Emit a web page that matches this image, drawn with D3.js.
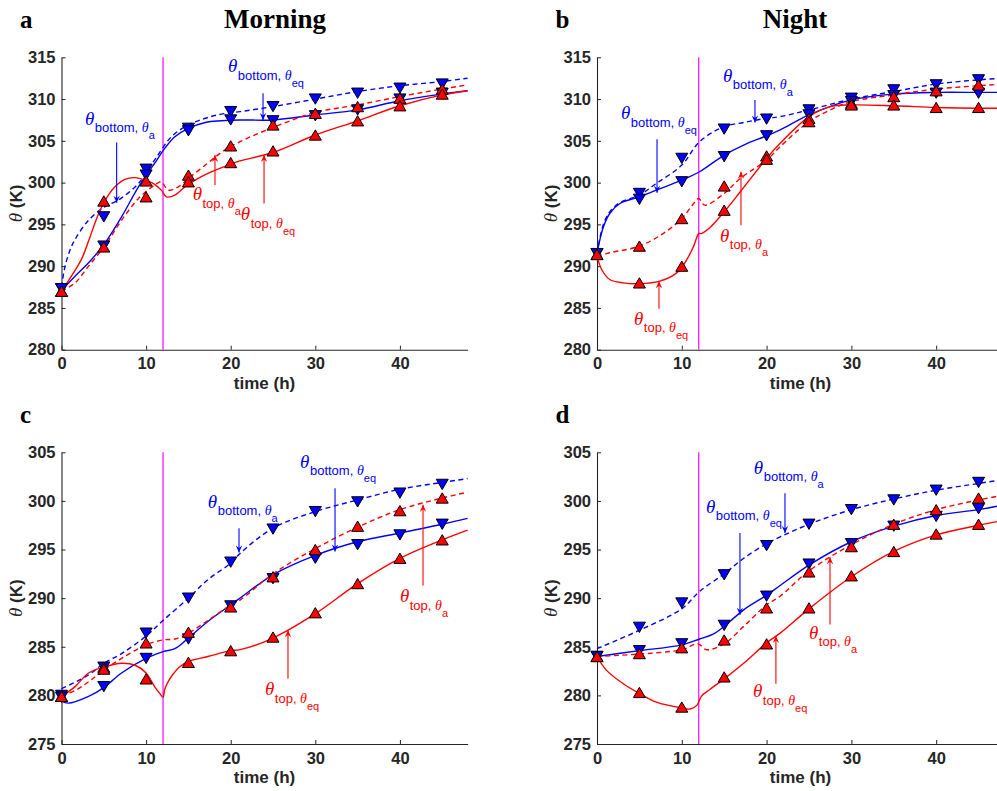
<!DOCTYPE html>
<html><head><meta charset="utf-8">
<script src="https://cdn.jsdelivr.net/npm/d3@7"></script>
<style>body{margin:0;background:#fff} svg{display:block} text{white-space:pre}</style>
</head><body><svg id="chart" width="997" height="791"></svg>
<script>
// ---------------- DATA ----------------
const obsTimes = [0, 5, 10, 15, 20, 25, 30, 35, 40, 45];
const xTicks = [0, 10, 20, 30, 40];
const yTicksTop = [280, 285, 290, 295, 300, 305, 310, 315];
const yTicksBottom = [275, 280, 285, 290, 295, 300, 305];
const switchTime = 12;

// Panel a (Morning, upper)
const a_bottomA_obs  = [287.3, 295.9, 301.6, 306.5, 308.5, 309.1, 310.0, 310.7, 311.3, 311.8];
const a_bottomEq_obs = [287.3, 292.4, 300.9, 306.2, 307.5, 307.4, 308.0, 308.7, 310.0, 310.7];
const a_topA_obs     = [287.0, 292.3, 298.3, 300.9, 304.4, 306.9, 308.3, 309.1, 310.1, 311.2];
const a_topEq_obs    = [287.0, 297.8, 300.2, 300.1, 302.4, 303.8, 305.7, 307.4, 309.2, 310.6];
const a_bottomA_line  = [[0,287.5],[0.4,289.9],[1.0,291.9],[1.6,293.2],[3.2,295.5],[5.1,297.1],[6.7,297.9],[9.1,299.9],[11.0,302.7],[13.0,305.5],[15.0,306.9],[17.0,307.7],[18.9,308.2],[21.1,308.5],[25,309.1],[30,310.0],[35,310.9],[40,311.6],[45,312.1],[48,312.5]];
const a_bottomEq_line = [[0,287.1],[1.6,288.8],[3.2,290.4],[5.1,292.7],[7.1,295.9],[9.1,299.5],[11.0,302.3],[12.2,304.1],[13.4,305.5],[15.0,306.5],[17.0,307.2],[18.9,307.4],[21.1,307.5],[25,307.5],[30,308.1],[35,308.7],[40,309.8],[45,310.6],[48,311.0]];
const a_topA_line     = [[0,287.0],[1.6,288.0],[3.2,290.0],[5.1,292.4],[7.1,295.5],[9.1,298.1],[11.0,299.7],[11.8,300.1],[12.6,299.1],[13.8,299.5],[15.0,300.5],[17.0,302.1],[19.0,303.7],[21.1,304.9],[25,306.6],[30,308.4],[35,309.3],[40,310.3],[45,311.2],[48,311.7]];
const a_topEq_line    = [[0,287.0],[1.6,289.5],[2.4,290.9],[3.2,293.0],[4.0,295.3],[4.8,297.2],[5.6,298.6],[6.4,299.6],[7.5,300.4],[8.7,300.6],[9.9,300.3],[11.0,299.8],[11.8,299.1],[12.4,298.3],[13.4,298.5],[14.6,299.5],[15.8,300.3],[17.3,301.1],[19.7,302.1],[21.1,302.6],[25,303.6],[30,305.7],[35,307.4],[40,309.2],[45,310.5],[48,311.0]];

// Panel b (Night, upper)
const b_bottomA_obs  = [291.5, 298.7, 302.9, 306.4, 307.6, 308.7, 310.1, 311.1, 311.7, 312.3];
const b_bottomEq_obs = [291.5, 298.0, 300.1, 303.1, 305.6, 308.1, 309.7, 310.4, 310.7, 310.7];
const b_topA_obs     = [291.4, 292.4, 295.7, 299.6, 303.2, 307.7, 309.5, 310.3, 311.0, 311.7];
const b_topEq_obs    = [291.4, 288.0, 290.0, 296.7, 302.8, 307.3, 309.3, 309.3, 309.0, 309.0];
const b_bottomA_line  = [[0,291.5],[0.35,293.4],[0.75,295.0],[1.5,296.5],[2.7,297.6],[5,298.5],[7,299.9],[10,302.1],[12.1,304.9],[15,306.7],[17.3,307.2],[20,307.7],[21.6,307.9],[25,308.7],[30,310.0],[35,310.9],[40,311.8],[45,312.3],[48,312.5]];
const b_bottomEq_line = [[0,291.5],[0.35,293.2],[0.75,294.7],[1.5,296.3],[2.7,297.5],[5,298.3],[7,299.1],[10,300.3],[12.1,301.3],[15,303.3],[17.3,304.5],[20,305.6],[21.6,306.3],[25,308.1],[30,309.9],[35,310.6],[40,310.8],[45,310.8],[48,310.8]];
const b_topA_line     = [[0,291.2],[1.5,291.6],[5,292.4],[7.8,293.9],[10,295.7],[11.4,297.5],[12,298.1],[12.7,297.3],[15,298.7],[16.9,300.5],[20,302.7],[21.6,304.3],[25,307.3],[27.5,308.7],[30,309.7],[35,310.5],[40,311.2],[45,311.6],[48,311.8]];
const b_topEq_line    = [[0,291.2],[0.55,289.6],[1.5,288.4],[3.1,288.0],[5,287.9],[7.4,288.2],[9.4,289.2],[10.6,290.8],[11.4,292.4],[12,293.9],[12.3,293.9],[13.3,294.6],[15,296.5],[16.9,298.9],[20,302.9],[21.6,304.7],[25,307.9],[27.5,309.1],[30,309.3],[35,309.2],[40,309.0],[45,308.9],[48,308.9]];

// Panel c (Morning, lower)
const c_bottomA_obs  = [280.0, 282.9, 286.4, 290.0, 293.7, 297.1, 298.9, 299.9, 300.8, 301.7];
const c_bottomEq_obs = [279.8, 280.9, 283.8, 285.8, 289.2, 292.0, 294.1, 295.5, 296.5, 297.6];
const c_topA_obs     = [279.9, 282.9, 285.4, 286.5, 289.1, 292.2, 295.0, 297.4, 299.0, 300.3];
const c_topEq_obs    = [279.9, 282.7, 281.7, 283.4, 284.6, 286.0, 288.5, 291.5, 294.1, 296.0];
const c_bottomA_line  = [[0,280.7],[3.2,282.1],[5,283.3],[7.1,284.3],[10,286.1],[12,287.7],[15,290.0],[17.3,291.9],[20,293.6],[21.1,294.6],[25,297.2],[30,298.9],[35,300.1],[40,301.2],[45,301.9],[48,302.3]];
const c_bottomEq_line = [[0,279.4],[0.8,279.2],[3.2,279.9],[5,280.8],[7.1,282.3],[10,283.8],[12,284.5],[13.4,284.8],[15,285.9],[17.3,287.6],[20,289.3],[21.1,290.0],[25,292.4],[30,294.4],[35,295.8],[40,296.7],[45,297.6],[48,298.2]];
const c_topA_line     = [[0,280.0],[1.6,280.5],[3.2,281.4],[5,282.6],[7.1,283.8],[10,285.2],[12,285.7],[13.4,285.8],[15,286.4],[17.3,287.7],[20,289.3],[21.1,289.8],[25,292.5],[30,295.1],[35,297.3],[40,299.1],[45,300.3],[48,300.9]];
const c_topEq_line    = [[0,279.9],[1.6,280.9],[3.2,282.3],[5,282.9],[7.1,283.3],[8.7,283.1],[10,282.3],[11,280.9],[11.7,280.1],[12,279.8],[12.2,280.6],[12.6,281.4],[13.2,282.2],[13.9,282.9],[15,283.5],[17.3,284.0],[20,284.6],[21.1,284.7],[25,285.9],[30,288.4],[35,291.5],[40,294.1],[45,296.0],[48,297.0]];

// Panel d (Night, lower)
const d_bottomA_obs  = [284.0, 287.0, 289.5, 292.4, 295.4, 297.6, 299.1, 300.1, 301.1, 301.9];
const d_bottomEq_obs = [284.0, 284.6, 285.3, 287.2, 290.2, 293.5, 295.6, 297.4, 298.4, 299.2];
const d_topA_obs     = [284.0, 284.3, 284.9, 285.7, 289.0, 292.7, 295.3, 297.6, 299.1, 300.3];
const d_topEq_obs    = [284.0, 280.3, 278.8, 281.9, 285.3, 289.0, 292.3, 294.8, 296.6, 297.6];
const d_bottomA_line  = [[0,284.8],[5,286.7],[10,288.9],[12.1,290.7],[15,292.5],[17.3,294.1],[20,295.6],[21.6,296.3],[25,297.6],[30,299.1],[35,300.2],[40,301.1],[45,301.8],[48,302.2]];
const d_bottomEq_line = [[0,284.0],[5,284.6],[10,285.2],[12.1,285.8],[13.7,286.3],[15,287.1],[17.3,288.8],[20,290.3],[21.6,291.3],[25,293.4],[30,295.8],[35,297.4],[40,298.5],[45,299.1],[48,299.6]];
const d_topA_line     = [[0,284.0],[5,284.25],[10,284.7],[11.9,285.3],[12.9,284.7],[15,285.3],[17.3,287.1],[20,289.3],[21.6,290.2],[25,292.8],[30,295.5],[35,297.6],[40,299.1],[45,300.1],[48,300.6]];
const d_topEq_line    = [[0,284.0],[1.1,282.6],[3.1,281.2],[5,280.2],[7,279.3],[10,278.7],[11,278.6],[11.8,279.0],[12.3,279.9],[13.3,280.6],[15,281.7],[17.3,283.3],[20,285.4],[21.6,286.4],[25,288.9],[30,292.2],[35,294.8],[40,296.5],[45,297.5],[48,298.0]];

// Annotation labels: [subscript, sub-subscript]
const labelBottomA  = ['bottom, ', 'a'];
const labelBottomEq = ['bottom, ', 'eq'];
const labelTopA     = ['top, ', 'a'];
const labelTopEq    = ['top, ', 'eq'];

// ---------------- LAYOUT ----------------
const BLUE = '#0000ff', RED = '#ff0000', AXC = '#262626';
const panels = [
  { letter:'a', title:'Morning', titleX:275, left:61.5, right:467.6, top:57.3, bottom:349.7, yDomain:[280,315], yTicks:yTicksTop,
    series:[[a_bottomA_line,a_bottomA_obs,BLUE,true,'down'],[a_bottomEq_line,a_bottomEq_obs,BLUE,false,'down'],
            [a_topA_line,a_topA_obs,RED,true,'up'],[a_topEq_line,a_topEq_obs,RED,false,'up']],
    notes:[[labelBottomA,BLUE,[2.78,306.9],[6.52,304.8],[6.52,297.6]],
           [labelBottomEq,BLUE,[19.68,313.2],[23.82,310.7],[23.82,307.5]],
           [labelTopA,RED,[15.5,297.9],[18.14,299.7],[18.14,303.3]],
           [labelTopEq,RED,[21.2,295.5],[23.94,297.5],[23.94,303.3]]] },
  { letter:'b', title:'Night', titleX:795, left:597, right:1004, top:57.3, bottom:349.7, yDomain:[280,315], yTicks:yTicksTop,
    series:[[b_bottomA_line,b_bottomA_obs,BLUE,true,'down'],[b_bottomEq_line,b_bottomEq_obs,BLUE,false,'down'],
            [b_topA_line,b_topA_obs,RED,true,'up'],[b_topEq_line,b_topEq_obs,RED,false,'up']],
    notes:[[labelBottomEq,BLUE,[2.83,307.6],[7.08,305.2],[7.08,298.8]],
           [labelBottomA,BLUE,[14.86,312.1],[18.63,309.9],[18.63,307.2]],
           [labelTopA,RED,[14.5,292.9],[16.98,294.9],[16.98,301.3]],
           [labelTopEq,RED,[4.36,283.0],[7.31,284.9],[7.31,288.2]]] },
  { letter:'c', title:null, left:61.5, right:467.6, top:452.3, bottom:744, yDomain:[275,305], yTicks:yTicksBottom,
    series:[[c_bottomA_line,c_bottomA_obs,BLUE,true,'down'],[c_bottomEq_line,c_bottomEq_obs,BLUE,false,'down'],
            [c_topA_line,c_topA_obs,RED,true,'up'],[c_topEq_line,c_topEq_obs,RED,false,'up']],
    notes:[[labelBottomA,BLUE,[17.3,299.3],[20.98,297.2],[20.98,294.7]],
           [labelBottomEq,BLUE,[28.2,303.4],[32.33,301.3],[32.33,294.8]],
           [labelTopA,RED,[40.0,289.6],[42.73,291.3],[42.73,299.6]],
           [labelTopEq,RED,[24.05,280.0],[26.77,281.7],[26.77,286.7]]] },
  { letter:'d', title:null, left:597, right:1004, top:452.3, bottom:744, yDomain:[275,305], yTicks:yTicksBottom,
    series:[[d_bottomA_line,d_bottomA_obs,BLUE,true,'down'],[d_bottomEq_line,d_bottomEq_obs,BLUE,false,'down'],
            [d_topA_line,d_topA_obs,RED,true,'up'],[d_topEq_line,d_topEq_obs,RED,false,'up']],
    notes:[[labelBottomA,BLUE,[18.5,302.8],[22.17,300.8],[22.17,296.7]],
           [labelBottomEq,BLUE,[12.85,298.8],[16.86,296.7],[16.86,288.3]],
           [labelTopA,RED,[25.0,285.8],[27.48,287.3],[27.48,294.2]],
           [labelTopEq,RED,[18.4,279.8],[21.1,281.2],[21.1,286.1]]] }
];

const svg = d3.select('#chart');
const SANS = '"Liberation Sans", Arial, Helvetica, sans-serif';
const SERIF = '"Liberation Serif", "Times New Roman", serif';

function triPath(dir){
  const w = 12, h = 10.3;
  return dir === 'up'
    ? `M0,${-h/2}L${w/2},${h/2}L${-w/2},${h/2}Z`
    : `M0,${h/2}L${w/2},${-h/2}L${-w/2},${-h/2}Z`;
}

panels.forEach(p => {
  const g = svg.append('g');
  const x = d3.scaleLinear().domain([0,48]).range([p.left,p.right]);
  const y = d3.scaleLinear().domain(p.yDomain).range([p.bottom,p.top]);

  // panel letter & title
  g.append('text').attr('x', p.left - 41.5).attr('y', p.top - 29)
    .attr('font-family', SERIF).attr('font-weight','bold').attr('font-size',25).attr('fill','#000').text(p.letter);
  if (p.title) {
    g.append('text').attr('x', p.titleX).attr('y', p.top - 29).attr('text-anchor','middle')
      .attr('font-family', SERIF).attr('font-weight','bold').attr('font-size',27).attr('fill','#000').text(p.title);
  }

  // axes
  const yAxis = d3.axisLeft(y).tickValues(p.yTicks).tickSizeInner(-4).tickSizeOuter(0).tickPadding(6);
  const xAxis = d3.axisBottom(x).tickValues(xTicks).tickSizeInner(-4).tickSizeOuter(0).tickPadding(8);
  const ya = g.append('g').attr('transform',`translate(${p.left},0)`).call(yAxis);
  const xa = g.append('g').attr('transform',`translate(0,${p.bottom})`).call(xAxis);
  [ya,xa].forEach(a => {
    a.select('.domain').attr('stroke',AXC).attr('stroke-width',1.1);
    a.selectAll('.tick line').attr('stroke',AXC).attr('stroke-width',1);
    a.selectAll('.tick text').attr('fill',AXC).attr('font-family',SANS).attr('font-weight','bold').attr('font-size',16.5);
  });

  // axis labels
  g.append('text').attr('x',(p.left+p.right)/2).attr('y',p.bottom+39).attr('text-anchor','middle')
    .attr('font-family',SANS).attr('font-weight','bold').attr('font-size',17).attr('fill',AXC).text('time (h)');
  const yl = g.append('text').attr('transform',`translate(${p.left-40},${(p.top+p.bottom)/2}) rotate(-90)`)
    .attr('text-anchor','middle').attr('font-family',SANS).attr('font-weight','bold').attr('font-size',17).attr('fill',AXC);
  yl.append('tspan').attr('font-family',SERIF).attr('font-style','italic').attr('font-weight','normal').attr('font-size',19).text('θ');
  yl.append('tspan').text(' (K)');

  // magenta switch line
  g.append('line').attr('x1',x(switchTime)).attr('x2',x(switchTime)).attr('y1',p.top).attr('y2',p.bottom)
    .attr('stroke','#ff00ff').attr('stroke-width',1.2);

  // lines
  const line = d3.line().x(d=>x(d[0])).y(d=>y(d[1])).curve(d3.curveCatmullRom.alpha(0.5));
  p.series.forEach(([ld,,col,dashed]) => {
    g.append('path').datum(ld).attr('d',line).attr('fill','none').attr('stroke',col)
      .attr('stroke-width',1.4).attr('stroke-dasharray', dashed ? '5,3.5' : null);
  });

  // markers (blue first, red on top)
  p.series.forEach(([,obs,col,,dir]) => {
    g.append('g').selectAll('path').data(obs).join('path')
      .attr('transform',(d,i)=>`translate(${x(obsTimes[i])},${y(d)})`)
      .attr('d',triPath(dir)).attr('fill',col).attr('stroke','#000').attr('stroke-width',1);
  });

  // annotations
  p.notes.forEach(([lab,col,pos,tail,head]) => {
    const t = g.append('text').attr('x',x(pos[0])).attr('y',y(pos[1])).attr('fill',col).attr('font-family',SANS);
    t.append('tspan').attr('font-family',SERIF).attr('font-style','italic').attr('font-size',19).text('θ');
    t.append('tspan').attr('font-size',13).attr('dy',7.5).attr('dx',0.5).text(lab[0]);
    t.append('tspan').attr('font-family',SERIF).attr('font-style','italic').attr('font-size',14).text('θ');
    t.append('tspan').attr('font-size',11).attr('dy',7).text(lab[1]);
    const x1 = x(tail[0]), y1 = y(tail[1]), x2 = x(head[0]), y2 = y(head[1]);
    g.append('line').attr('x1',x1).attr('y1',y1).attr('x2',x2).attr('y2',y2).attr('stroke',col).attr('stroke-width',1.1);
    const ang = Math.atan2(y2-y1, x2-x1);
    const L = 7, W = 3.2, N = 4.5;
    const pts = [[0,0],[-L,W],[-N,0],[-L,-W]].map(([u,v]) =>
      [x2 + u*Math.cos(ang) - v*Math.sin(ang), y2 + u*Math.sin(ang) + v*Math.cos(ang)]);
    g.append('path').attr('d','M'+pts.map(q=>q.join(',')).join('L')+'Z').attr('fill',col).attr('stroke','none');
  });
});
</script></body></html>
